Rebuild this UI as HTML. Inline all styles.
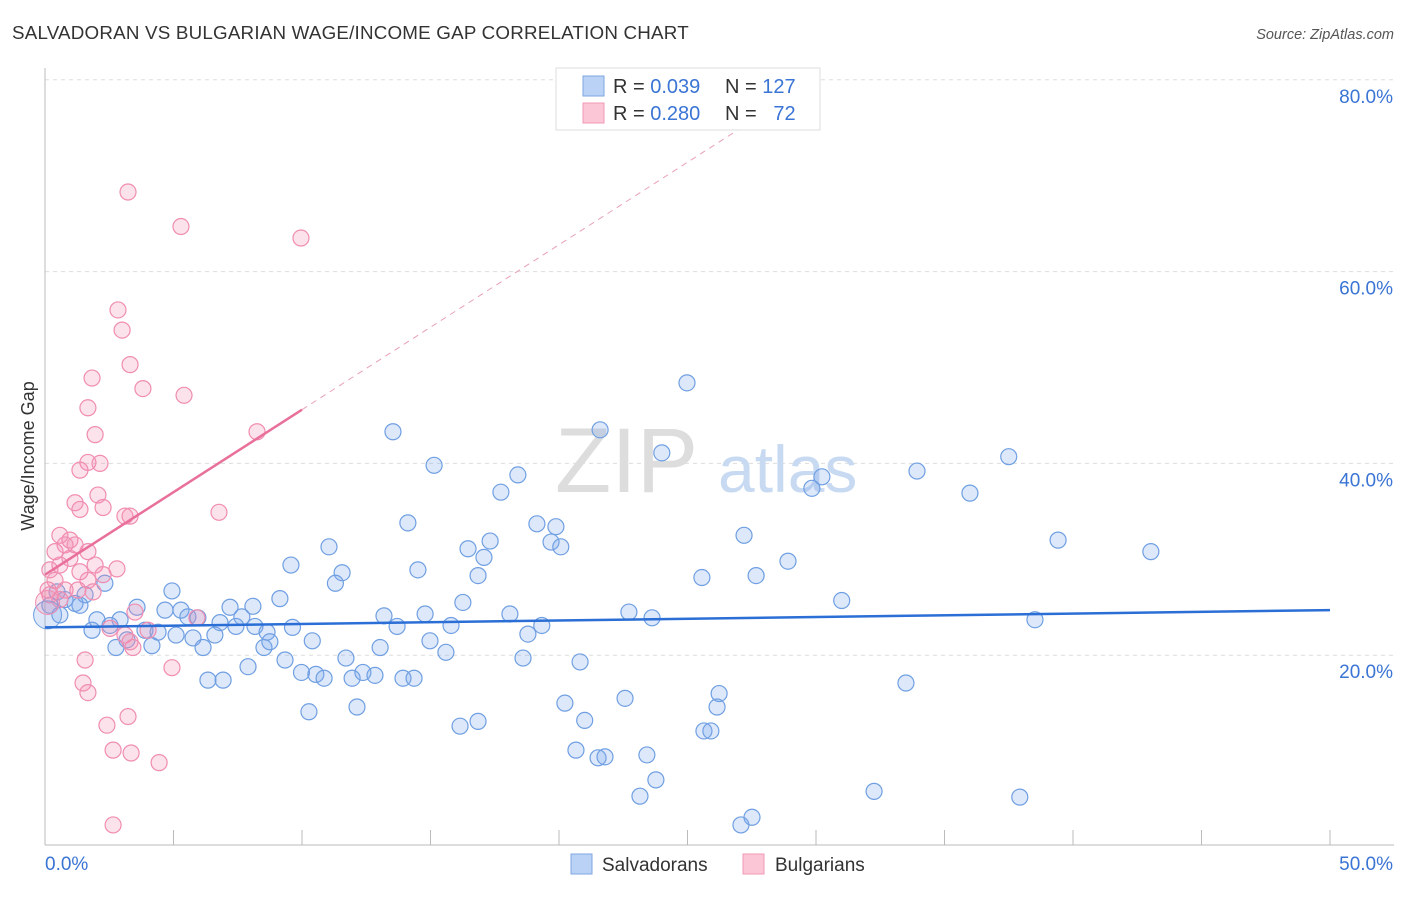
<!DOCTYPE html>
<html><head><meta charset="utf-8"><style>
body{margin:0;background:#fff;font-family:"Liberation Sans",sans-serif;}
svg text{font-family:"Liberation Sans",sans-serif;}
</style></head><body>
<svg id="chart" width="1406" height="892" xmlns="http://www.w3.org/2000/svg">
<text x="12" y="39" font-size="18.8" fill="#333" letter-spacing="0.2">SALVADORAN VS BULGARIAN WAGE/INCOME GAP CORRELATION CHART</text>
<text x="1394" y="39" font-size="14.5" fill="#555" font-style="italic" text-anchor="end">Source: ZipAtlas.com</text>
<g id="grid"></g>
<text x="555" y="492" font-size="92" fill="#ddd" font-family="Liberation Serif">ZIP</text>
<text x="718" y="492" font-size="66" fill="#c8daf2">atlas</text>
<g id="axes"></g>
<g id="marks"></g>
<g>
<rect x="556" y="68" width="264" height="62" fill="#fff" stroke="#ddd"/>
<rect x="583" y="76" width="21" height="20" fill="#b9d2f5" stroke="#7fa7e3"/>
<rect x="583" y="103" width="21" height="20" fill="#fbc6d6" stroke="#f09ab6"/>
<text x="613" y="93" font-size="20" fill="#333">R = <tspan fill="#3a74d4">0.039</tspan></text>
<text x="725" y="93" font-size="20" fill="#333">N = <tspan fill="#3a74d4">127</tspan></text>
<text x="613" y="120" font-size="20" fill="#333">R = <tspan fill="#3a74d4">0.280</tspan></text>
<text x="725" y="120" font-size="20" fill="#333">N = <tspan fill="#3a74d4">&#160;&#160;72</tspan></text>
</g>
<g>
<rect x="571" y="854" width="21" height="20" fill="#b9d2f5" stroke="#7fa7e3"/>
<text x="602" y="871" font-size="19" fill="#333">Salvadorans</text>
<rect x="743" y="854" width="21" height="20" fill="#fbc6d6" stroke="#f09ab6"/>
<text x="775" y="871" font-size="19" fill="#333">Bulgarians</text>
</g>
</svg>
<script>
const blueX=[4.94,2.33,3.58,4.67,5.29,5.56,5.95,7.2,8.09,9.14,9.57,7.66,6.81,7.43,8.17,8.64,9.63,10.4,11.05,11.56,11.3,1.83,2.92,3.89,4.4,5.1,5.76,6.61,6.15,4.16,3.19,2.76,8.52,8.75,7.9,9.34,6.34,6.93,9.98,10.54,10.86,10.27,11.71,11.95,12.37,12.84,12.14,13.04,13.54,14.12,13.19,13.7,14.51,14.79,14.98,15.6,13.93,14.36,15.14,15.8,16.26,16.46,16.85,17.08,17.32,16.15,16.85,17.74,18.4,18.09,18.79,19.14,19.33,18.6,19.69,19.88,20.07,20.23,20.82,20.66,21.0,21.6,21.52,21.79,22.57,22.72,23.62,23.15,23.42,23.77,24.0,24.98,25.56,25.64,25.91,26.15,26.23,27.08,27.51,27.2,27.67,28.91,29.84,30.23,31.0,32.26,33.5,33.93,35.99,37.5,37.93,38.52,39.42,43.03,0.47,0.78,1.17,1.56,1.36,2.02,2.53,0.19,0.58];
const blueY=[26.7,27.5,25.0,24.7,24.7,24.0,23.9,25.0,25.1,25.9,29.4,24.0,23.4,23.0,23.0,22.4,22.9,21.5,31.3,28.6,27.5,22.6,23.7,22.6,22.4,22.1,21.8,22.1,20.8,21.0,21.6,20.8,20.8,21.4,18.8,19.5,17.4,17.4,18.2,18.0,17.6,14.1,19.7,17.6,18.2,17.9,14.6,20.8,43.3,33.8,24.1,23.0,28.9,24.3,21.5,20.3,17.6,17.6,39.8,23.1,25.5,31.1,28.3,30.2,31.9,12.6,13.1,37.0,38.8,24.3,22.2,33.7,23.1,19.7,31.8,33.4,31.3,15.0,19.3,10.1,13.2,43.5,9.3,9.4,15.5,24.5,23.9,5.3,9.6,7.0,41.1,48.4,28.1,12.1,12.1,14.6,16.0,2.3,3.1,32.5,28.3,29.8,37.4,38.6,25.7,5.8,17.1,39.2,36.9,40.7,5.2,23.7,32.0,30.8,26.6,25.8,25.4,26.3,25.2,23.7,23.1,25.2,24.2];
const pinkX=[3.23,5.29,9.96,2.84,3.0,3.31,1.83,3.81,5.41,1.67,1.95,8.25,1.67,2.14,1.36,2.06,1.17,2.26,1.36,3.11,3.31,6.77,0.58,0.97,1.17,0.78,0.39,1.67,0.97,0.58,1.95,2.8,0.19,1.36,2.26,0.39,1.67,0.78,1.28,1.87,0.19,0.58,3.5,5.91,2.53,3.11,4.01,3.31,3.42,1.56,4.94,1.48,1.67,3.23,2.41,2.65,3.35,4.44,2.65,0.12];
const pinkY=[68.3,64.7,63.5,56.0,53.9,50.3,48.9,47.8,47.1,45.8,43.0,43.3,40.1,40.0,39.3,36.7,35.9,35.4,35.2,34.5,34.5,34.9,32.5,32.0,31.5,31.5,30.8,30.8,30.1,29.4,29.4,29.0,28.9,28.7,28.4,27.8,27.8,26.8,26.8,26.6,26.3,25.8,24.5,23.9,22.8,22.1,22.6,21.4,20.8,19.5,18.7,17.1,16.1,13.6,12.7,10.1,9.8,8.8,2.3,26.8];
const blueTrend=[22.9,24.7];
const pinkTrend=[28.4,45.6];
const yTicks=[20,40,60,80];
const xTickVals=[0,5,10,15,20,25,30,35,40,45,50];

const NS="http://www.w3.org/2000/svg";
const X=v=>45+v*25.7, Y=v=>847-v*9.59;
function mk(tag,attrs,parent){const e=document.createElementNS(NS,tag);for(const k in attrs)e.setAttribute(k,attrs[k]);parent.appendChild(e);return e;}
const grid=document.getElementById('grid'),axes=document.getElementById('axes'),marks=document.getElementById('marks');
yTicks.forEach(t=>{
 const l=mk('line',{x1:45,x2:1394,y1:Y(t),y2:Y(t),stroke:'#ddd','stroke-dasharray':'4,4'},grid);
 
 
 const tx=mk('text',{x:1393,y:Y(t)+23,'font-size':19,fill:'#3a74d4','text-anchor':'end'},axes);
 tx.textContent=t.toFixed(1)+'%';
 
 
});
mk('line',{x1:45,x2:45,y1:68,y2:845,stroke:'#bbb'},axes);
mk('line',{x1:45,x2:1394,y1:845,y2:845,stroke:'#bbb'},axes);
xTickVals.forEach(t=>{
 const l=mk('line',{x1:X(t),x2:X(t),y1:830,y2:845,stroke:'#bbb'},axes);
 
 
});
const xl0=mk('text',{x:45,y:870,'font-size':19,fill:'#3a74d4'},axes);xl0.textContent='0.0%';


const xl1=mk('text',{x:1393,y:870,'font-size':19,fill:'#3a74d4','text-anchor':'end'},axes);xl1.textContent='50.0%';


const yt=mk('text',{x:34,y:456,'font-size':18,fill:'#333','text-anchor':'middle',transform:'rotate(-90 34 456)'},axes);yt.textContent='Wage/Income Gap';



function dots(xs,ys,fill,stroke,name){xs.forEach((v,i)=>{
 const c=mk('circle',{cx:X(v),cy:Y(ys[i]),r:8,fill:fill,stroke:stroke,'stroke-width':1.2},marks);
 
 
});}
dots(blueX,blueY,'rgba(120,165,235,0.25)','#6f9fe2','salvadoran-point');
dots(pinkX,pinkY,'rgba(245,140,175,0.25)','#f08db0','bulgarian-point');
const big1=mk('circle',{cx:X(0.1),cy:Y(24.2),r:14,fill:'rgba(120,165,235,0.25)',stroke:'#6f9fe2'},marks);


const big2=mk('circle',{cx:X(0.1),cy:Y(25.5),r:12,fill:'rgba(245,140,175,0.25)',stroke:'#f08db0'},marks);


const bl=mk('line',{x1:X(0),y1:Y(blueTrend[0]),x2:X(50),y2:Y(blueTrend[1]),stroke:'#2b6fd6','stroke-width':2.5},marks);


const slope=(pinkTrend[1]-pinkTrend[0])/10;
const pd=mk('line',{x1:X(10),y1:Y(pinkTrend[1]),x2:X(30),y2:Y(pinkTrend[0]+slope*30),stroke:'#e8a0b8','stroke-width':1,'stroke-dasharray':'6,5'},marks);


const pl=mk('line',{x1:X(0),y1:Y(pinkTrend[0]),x2:X(10),y2:Y(pinkTrend[1]),stroke:'#e8709a','stroke-width':2.5},marks);


</script>
</body></html>
